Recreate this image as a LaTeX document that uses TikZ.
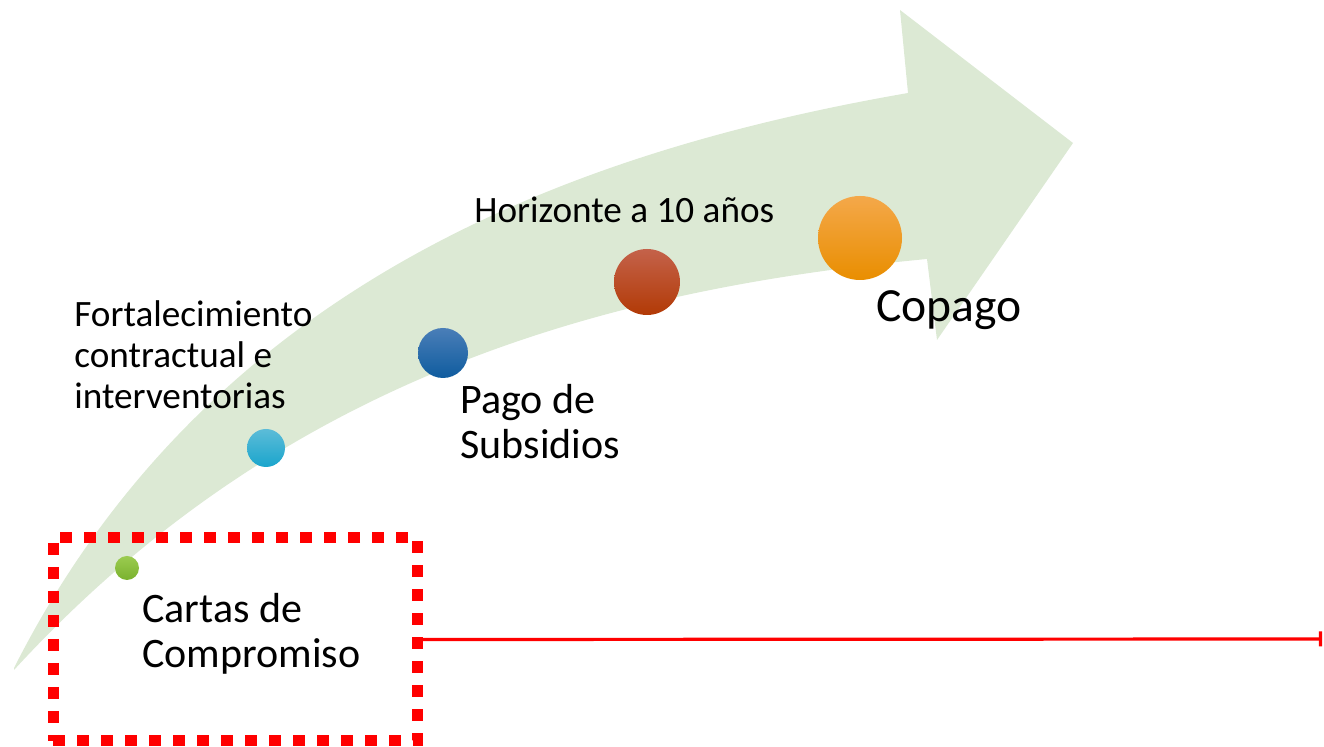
\documentclass[tikz,border=0pt]{standalone}
\usepackage{fontspec}
\setmainfont{Carlito}
\usetikzlibrary{arrows.meta}

\definecolor{bandgreen}{HTML}{DCE9D4}
\definecolor{markred}{HTML}{FF0000}

\tikzset{
  dot/.style = {circle, inner sep=0, draw=none},
  lbl/.style = {anchor=base west, inner sep=0, align=left},
  small/.style = {font=\fontsize{18.6}{20.5}\selectfont},
  large/.style = {font=\fontsize{21}{22.5}\selectfont},
}

\begin{document}
\begin{tikzpicture}[x=0.5pt, y=-0.5pt]
  \useasboundingbox (0,0) rectangle (1324,747);
  % curved band with its head
  \fill[bandgreen]
    (14,668) .. controls (210,280) and (580,150) .. (908,93)
    -- (900,10) -- (1073,143) -- (937,340) -- (927,259)
    .. controls (600,290) and (280,380) .. (14,670) -- cycle;

  \node[dot, minimum size=12pt, top color={rgb,255:red,155;green,203;blue,80}, bottom color={rgb,255:red,122;green,178;blue,46}] (cartas) at (127,568) {};
  \node[dot, minimum size=19pt, top color={rgb,255:red,92;green,188;blue,216}, bottom color={rgb,255:red,26;green,165;blue,204}] (fort) at (266,448) {};
  \node[dot, minimum size=25pt, top color={rgb,255:red,74;green,126;blue,184}, bottom color={rgb,255:red,15;green,92;blue,159}] (pago) at (443,353) {};
  \node[dot, minimum size=33pt, top color={rgb,255:red,196;green,98;blue,74}, bottom color={rgb,255:red,178;green,58;blue,6}] (hor) at (647,282) {};
  \node[dot, minimum size=42pt, top color={rgb,255:red,244;green,168;blue,74}, bottom color={rgb,255:red,233;green,142;blue,0}] (cop) at (860,238) {};

  % multi-line labels sit on their last baseline
  \node[lbl, small] (tfort) at (74,409) {Fortalecimiento\\contractual e\\interventorias};
  \node[lbl, small] (thor) at (474,223) {Horizonte a 10 años};
  \node[lbl, large] (tpago) at (460,459) {Pago de\\Subsidios};
  \node[lbl, large] (tcartas) at (142,668) {Cartas de\\Compromiso};
  \node[lbl, font=\fontsize{23.8}{27}\selectfont] (tcop) at (876,322) {Copago};

  \node[draw=markred, line width=5.5pt, dash pattern=on 6pt off 6pt,
        minimum width=182pt, minimum height=101.5pt, inner sep=0] (box) at (235,639.5) {};
  \coordinate (fin) at (1322,639);
  \draw[markred, line width=1.6pt, -{Bar[width=7.5pt]}] (box.east) -- (fin);
\end{tikzpicture}
\end{document}
